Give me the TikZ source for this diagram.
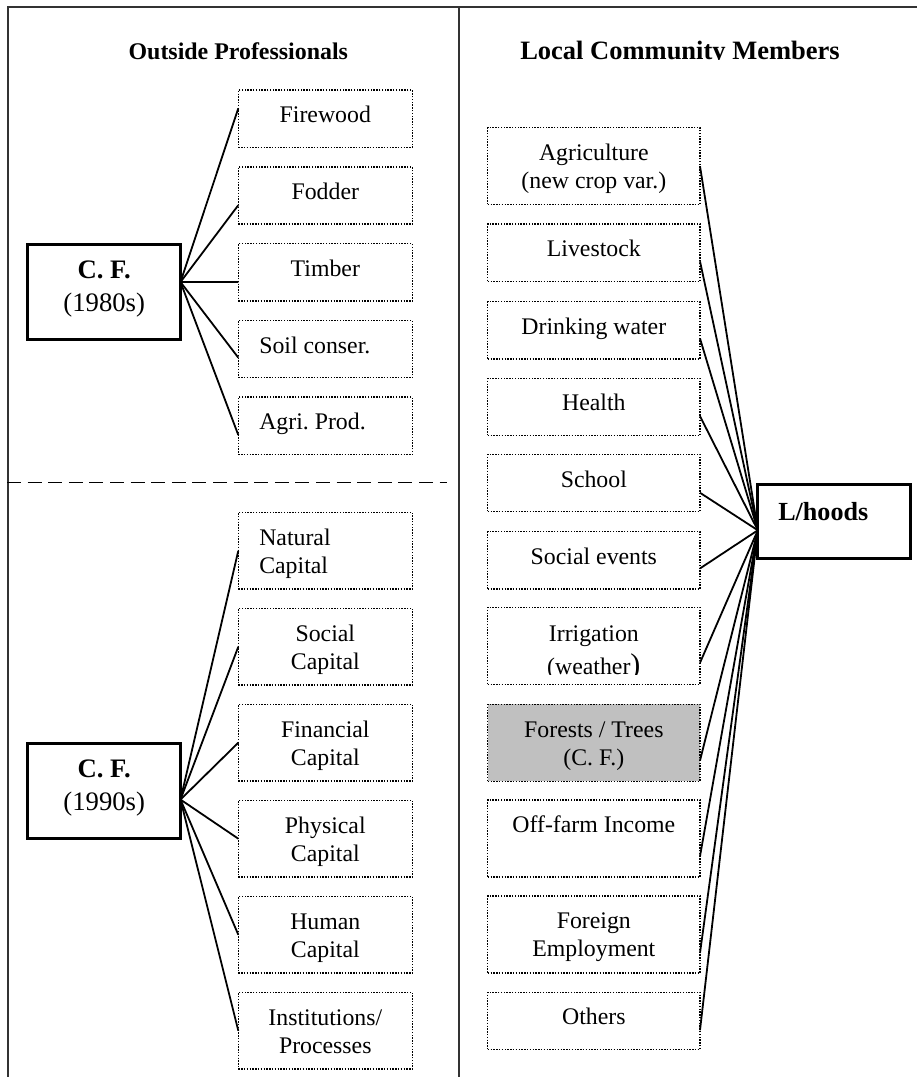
\documentclass[tikz,border=0pt]{standalone}
\usepackage{fontspec}
\setmainfont{Liberation Serif}
\usetikzlibrary{calc}
\definecolor{boxgrey}{RGB}{192,192,192}

\begin{document}
\begin{tikzpicture}[x=0.5pt,y=-0.5pt,
  every node/.style={inner sep=0pt, outer sep=0pt},
  frameline/.style={draw=black!80, line width=0.6pt},
  dotbox/.style={draw=black, line width=0.75pt, dash pattern=on 0.7pt off 0.7pt, anchor=north west, rectangle},
  ltbox/.style={dotbox, minimum width=87pt, minimum height=28.65pt},
  lbbox/.style={dotbox, minimum width=87pt, minimum height=38.4pt},
  rsbox/.style={dotbox, minimum width=106.15pt, minimum height=28.7pt},
  rtbox/.style={dotbox, minimum width=106.15pt, minimum height=38.5pt},
  thickbox/.style={draw=black, line width=1.5pt, anchor=north west, minimum width=76.5pt, minimum height=47.5pt},
  txt/.style={font=\fontsize{11.9}{14}\selectfont, align=center, anchor=base},
  txtl/.style={txt, anchor=base west, align=left},
  cftxt/.style={font=\fontsize{13.35}{16.5}\selectfont, align=center, anchor=base},
  head/.style={font=\bfseries\fontsize{11.95}{14}\selectfont, anchor=base},
  conn/.style={line width=0.9pt},
]
\useasboundingbox (0,0) rectangle (917,1077);

% table frame and section divider
\draw[frameline] (8,1077) -- (8,7) -- (917,7);
\draw[frameline] (459,7) -- (459,1077);
\draw[line width=0.65pt, dash pattern=on 7pt off 3.3pt] (7,482.3) -- (446.7,482.3);

% column headings
\node[head] (h1) at (238.3,59) {Outside Professionals};
\begin{scope}
  \clip (460,0) rectangle (917,59.6);
  \node[head, font=\bfseries\fontsize{13.25}{15}\selectfont] (h2) at (680,59) {Local Community Members};
\end{scope}

% C. F. in the 1980s (multi-line nodes are placed by their last baseline)
\node[thickbox] (cf1) at (27.5,244) {};
\node[cftxt] (cf1t) at (104.2,311.5) {\textbf{C.\ F.}\\(1980s)};

\node[ltbox] (fw) at (238.3,90) {};
\node[ltbox] (fd) at (238.3,166.8) {};
\node[ltbox] (tb) at (238.3,243.6) {};
\node[ltbox] (sl) at (238.3,320.4) {};
\node[ltbox] (ap) at (238.3,397.2) {};
\node[txt] (fwt) at ($(fw.north)+(0,32.7)$) {Firewood};
\node[txt] (fdt) at ($(fd.north)+(0,32.7)$) {Fodder};
\node[txt] (tbt) at ($(tb.north)+(0,32.7)$) {Timber};
\node[txtl] (slt) at ($(sl.north west)+(21,32.7)$) {Soil conser.};
\node[txtl] (apt) at ($(ap.north west)+(21,32.7)$) {Agri.\ Prod.};

\coordinate (o1) at ($(cf1.north east)!0.40!(cf1.south east)$);
\foreach \b/\f in {fw/0.32, fd/0.67, tb/0.67, sl/0.65, ap/0.66}
  \draw[conn] (o1) -- ($(\b.north west)!\f!(\b.south west)$);

% C. F. in the 1990s
\node[thickbox] (cf2) at (27.5,743.5) {};
\node[cftxt] (cf2t) at (104.2,810.8) {\textbf{C.\ F.}\\(1990s)};

\node[lbbox] (nc) at (238.3,512.3) {};
\node[lbbox] (sc) at (238.3,608.3) {};
\node[lbbox] (fc) at (238.3,704.3) {};
\node[lbbox] (pc) at (238.3,800.3) {};
\node[lbbox] (hc) at (238.3,896.3) {};
\node[lbbox] (ip) at (238.3,992.3) {};
\node[txtl] (nct) at ($(nc.north west)+(21,60.7)$) {Natural\\Capital};
\node[txt] (sct) at ($(sc.north)+(0,60.7)$) {Social\\Capital};
\node[txt] (fct) at ($(fc.north)+(0,60.7)$) {Financial\\Capital};
\node[txt] (pct) at ($(pc.north)+(0,60.7)$) {Physical\\Capital};
\node[txt] (hct) at ($(hc.north)+(0,60.7)$) {Human\\Capital};
\node[txt] (ipt) at ($(ip.north)+(0,60.7)$) {Institutions/\\Processes};

\coordinate (o2) at ($(cf2.north east)!0.59!(cf2.south east)$);
\foreach \b in {nc, sc, fc, pc, hc, ip}
  \draw[conn] (o2) -- (\b.west);

% livelihood components
\node[rtbox] (agr) at (487.7,127.7) {};
\node[rsbox] (liv) at (487.7,224) {};
\node[rsbox] (drk) at (487.7,301.7) {};
\node[rsbox] (hea) at (487.7,378.3) {};
\node[rsbox] (sch) at (487.7,454.3) {};
\node[rsbox] (soc) at (487.7,531.7) {};
\node[rtbox] (irr) at (487.7,607.3) {};
\node[rtbox, fill=boxgrey] (frs) at (487.7,704.3) {};
\node[rtbox] (off) at (487.7,800) {};
\node[rtbox] (frn) at (487.7,896) {};
\node[rsbox] (oth) at (487.7,992.3) {};

\node[txt] (agrt) at ($(agr.north)+(0,60.7)$) {Agriculture\\(new crop var.)};
\node[txt] (livt) at ($(liv.north)+(0,32.7)$) {Livestock};
\node[txt] (drkt) at ($(drk.north)+(0,32.3)$) {Drinking water};
\node[txt] (heat) at ($(hea.north)+(0,32.4)$) {Health};
\node[txt] (scht) at ($(sch.north)+(0,33)$) {School};
\node[txt] (soct) at ($(soc.north)+(0,33)$) {Social events};
\begin{scope}
  \clip (487,600) rectangle (701,674.3);
  \node[txt] (irrt) at ($(irr.north)+(0,67.6)$) {Irrigation\\[2.6pt](weather{\fontsize{15}{14}\selectfont)}};
\end{scope}
\node[txt] (frst) at ($(frs.north)+(0,61)$) {Forests / Trees\\(C.\ F.)};
\node[txt] (offt) at ($(off.north)+(0,32.7)$) {Off-farm Income};
\node[txt] (frnt) at ($(frn.north)+(0,60.3)$) {Foreign\\Employment};
\node[txt] (otht) at ($(oth.north)+(0,32)$) {Others};

% livelihoods
\node[thickbox, minimum height=37.3pt] (lh) at (757.8,484) {};
\node[font=\bfseries\fontsize{13.05}{15}\selectfont, anchor=base west] (lht) at (778.3,520) {L/hoods};

\coordinate (o3) at ($(lh.north west)!0.62!(lh.south west)$);
\foreach \b/\f in {agr/0.5, liv/0.65, drk/0.64, hea/0.66, sch/0.67, soc/0.64,
                   irr/0.72, frs/0.73, off/0.73, frn/0.74, oth/0.66}
  \draw[conn] (o3) -- ($(\b.north east)!\f!(\b.south east)$);
\end{tikzpicture}
\end{document}
